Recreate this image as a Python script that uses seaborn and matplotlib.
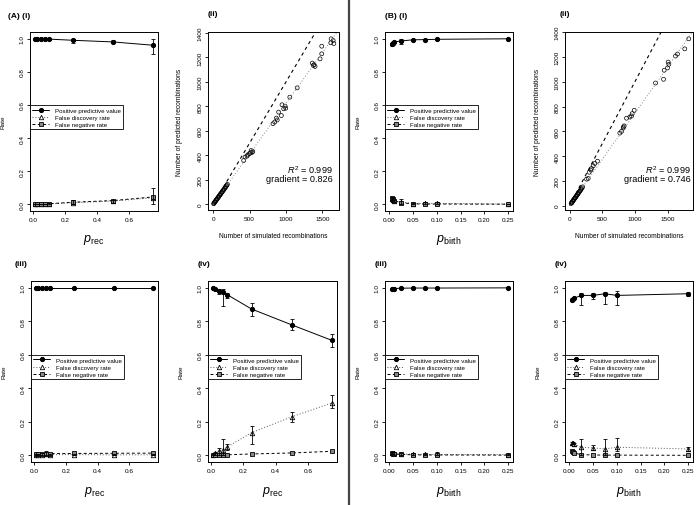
import matplotlib
matplotlib.use('Agg')
import matplotlib.pyplot as plt
import seaborn as sns
import numpy as np
from matplotlib.lines import Line2D

# ---------- data ----------
x_rec = [0.01, 0.025, 0.05, 0.075, 0.1, 0.25, 0.5, 0.75]
x_birth = [0.005, 0.0075, 0.01, 0.025, 0.05, 0.075, 0.1, 0.25]

# (A)(i)
ppv_a1 = [1.0, 1.0, 0.999, 0.998, 0.997, 0.99, 0.98, 0.96]
ppv_a1_lo = [1.0, 1.0, 0.997, 0.995, 0.993, 0.975, 0.972, 0.905]
ppv_a1_hi = [1.0, 1.0, 1.0, 1.0, 1.0, 1.0, 0.99, 0.995]
fdr_a1 = [0.0, 0.0, 0.001, 0.002, 0.003, 0.01, 0.02, 0.04]
fdr_a1_lo = [0.0, 0.0, 0.0, 0.0, 0.0, 0.0, 0.01, 0.005]
fdr_a1_hi = [0.0, 0.0, 0.003, 0.005, 0.007, 0.025, 0.028, 0.1]
fnr_a1 = [0.0, 0.001, 0.002, 0.003, 0.004, 0.013, 0.023, 0.045]

# (A)(iii)
ppv_a3 = [1.0, 1.0, 1.0, 1.0, 1.0, 1.0, 1.0, 1.0]
ppv_a3_lo = [0.998, 0.998, 0.998, 0.997, 0.998, 0.998, 0.998, 0.998]
ppv_a3_hi = [1.0, 1.0, 1.0, 1.0, 1.0, 1.0, 1.0, 1.0]
fdr_a3 = [0.002, 0.003, 0.004, 0.006, 0.004, 0.004, 0.003, 0.003]
fdr_a3_lo = [0.0, 0.0, 0.0, 0.0, 0.0, 0.0, 0.0, 0.0]
fdr_a3_hi = [0.006, 0.008, 0.012, 0.024, 0.01, 0.008, 0.006, 0.006]
fnr_a3 = [0.006, 0.007, 0.008, 0.01, 0.01, 0.011, 0.012, 0.013]

# (A)(iv)
ppv_a4 = [0.998, 0.994, 0.98, 0.974, 0.958, 0.873, 0.778, 0.685]
ppv_a4_lo = [0.995, 0.99, 0.96, 0.893, 0.937, 0.832, 0.745, 0.644]
ppv_a4_hi = [1.0, 0.998, 0.994, 0.994, 0.968, 0.909, 0.816, 0.721]
fdr_a4 = [0.004, 0.012, 0.028, 0.034, 0.05, 0.135, 0.23, 0.313]
fdr_a4_lo = [0.0, 0.004, 0.004, 0.0, 0.03, 0.069, 0.196, 0.283]
fdr_a4_hi = [0.008, 0.02, 0.044, 0.1, 0.065, 0.176, 0.257, 0.358]
fnr_a4 = [0.002, 0.002, 0.003, 0.003, 0.003, 0.008, 0.014, 0.024]

# (B)(i)
ppv_b1 = [0.965, 0.972, 0.98, 0.986, 0.993, 0.994, 0.996, 0.999]
ppv_b1_lo = [0.955, 0.962, 0.972, 0.97, 0.99, 0.99, 0.992, 0.998]
ppv_b1_hi = [0.975, 0.982, 0.988, 0.998, 0.996, 0.998, 1.0, 1.0]
fdr_b1 = [0.035, 0.028, 0.02, 0.014, 0.005, 0.006, 0.006, 0.002]
fdr_b1_lo = [0.025, 0.018, 0.012, 0.002, 0.002, 0.002, 0.0, 0.0]
fdr_b1_hi = [0.045, 0.038, 0.028, 0.03, 0.01, 0.012, 0.012, 0.004]
fnr_b1 = [0.04, 0.03, 0.022, 0.01, 0.003, 0.002, 0.002, 0.001]

# (B)(iii)
ppv_b3 = [0.99, 0.993, 0.995, 0.997, 0.998, 0.998, 0.998, 0.999]
ppv_b3_lo = [0.985, 0.988, 0.99, 0.993, 0.995, 0.995, 0.995, 0.997]
ppv_b3_hi = [0.995, 0.998, 1.0, 1.0, 1.0, 1.0, 1.0, 1.0]
fdr_b3 = [0.015, 0.013, 0.011, 0.008, 0.006, 0.005, 0.005, 0.004]
fdr_b3_lo = [0.008, 0.006, 0.004, 0.002, 0.0, 0.0, 0.0, 0.0]
fdr_b3_hi = [0.022, 0.02, 0.018, 0.016, 0.012, 0.01, 0.02, 0.008]
fnr_b3 = [0.012, 0.01, 0.008, 0.005, 0.003, 0.002, 0.002, 0.001]

# (B)(iv)
ppv_b4 = [0.929, 0.933, 0.937, 0.954, 0.954, 0.964, 0.954, 0.964]
ppv_b4_lo = [0.922, 0.926, 0.93, 0.897, 0.933, 0.903, 0.897, 0.95]
ppv_b4_hi = [0.936, 0.94, 0.944, 0.968, 0.968, 0.974, 0.98, 0.974]
fdr_b4 = [0.075, 0.072, 0.066, 0.048, 0.044, 0.038, 0.048, 0.038]
fdr_b4_lo = [0.068, 0.065, 0.058, 0.004, 0.03, 0.004, 0.024, 0.028]
fdr_b4_hi = [0.082, 0.079, 0.074, 0.1, 0.06, 0.095, 0.105, 0.05]
fnr_b4 = [0.028, 0.02, 0.014, 0.004, 0.002, 0.001, 0.001, 0.0]

# (A)(ii) simulated vs predicted recombinations
sim_a = [8, 12, 18, 22, 27, 33, 38, 42, 48, 55, 60, 66, 72, 78, 85, 92, 98, 105,
         112, 120, 128, 135, 142, 150, 158, 165, 172, 180, 188, 196,
         420, 439, 466, 475, 499, 512, 522, 545, 535,
         822, 845, 868, 880, 900, 937, 946, 969, 988, 997,
         1053, 1154,
         1362, 1376, 1385, 1399, 1468, 1491, 1491,
         1615, 1620, 1648, 1657]
pred_a = [6, 10, 15, 19, 22, 28, 31, 36, 40, 46, 50, 55, 60, 65, 71, 76, 82, 87,
          93, 100, 106, 112, 118, 124, 131, 137, 143, 150, 157, 165,
          359, 387, 395, 405, 414, 422, 441, 433, 425,
          660, 673, 705, 690, 754, 726, 814, 781, 803, 786,
          876, 952,
          1154, 1135, 1141, 1127, 1189, 1230, 1292,
          1320, 1352, 1339, 1314]
grad_a = 0.826

# (B)(ii)
sim_b = [25, 30, 35, 40, 46, 52, 58, 64, 70, 77, 84, 90, 97, 104, 111, 118, 125,
         132, 140, 148, 156, 164, 172, 180, 190, 200,
         260, 285, 300, 326, 336, 362, 387, 428,
         770, 796, 821, 826, 836, 872, 923, 949, 959, 990,
         1316, 1439, 1449, 1500, 1510, 1520, 1622, 1652, 1764, 1825]
pred_b = [18, 22, 26, 30, 34, 39, 43, 48, 52, 58, 63, 67, 72, 78, 83, 88, 93,
          99, 105, 111, 117, 123, 129, 135, 143, 152,
          214, 220, 270, 287, 300, 322, 341, 359,
          586, 600, 627, 636, 644, 706, 716, 724, 743, 770,
          990, 1020, 1093, 1112, 1159, 1141, 1208, 1224, 1266, 1347]
grad_b = 0.746

legend_labels = ['Positive predictive value', 'False discovery rate', 'False negative rate']

# ---------- style ----------
sns.set_style('ticks')
plt.rcParams['font.family'] = ['Liberation Sans', 'DejaVu Sans']
plt.rcParams['mathtext.fontset'] = 'custom'
plt.rcParams['mathtext.rm'] = 'Liberation Sans'
plt.rcParams['mathtext.it'] = 'Liberation Sans:italic'
plt.rcParams['text.color'] = 'black'
plt.rcParams['axes.labelcolor'] = 'black'

W, H = 697, 506
fig = plt.figure(figsize=(W / 100, H / 100), dpi=100)


def box(l, t, r, b):
    return fig.add_axes([l / W, 1 - b / H, (r - l) / W, (b - t) / H])


def finish_axes(ax):
    for s in ax.spines.values():
        s.set_linewidth(0.7)
        s.set_color('black')
    ax.tick_params(direction='out', length=2.5, width=0.6, labelsize=4.6,
                   pad=1.5, colors='black')
    ax.tick_params(axis='y', labelrotation=90)
    plt.setp(ax.get_yticklabels(), va='center')


def rate_panel(ax, x, ppv, ppv_lo, ppv_hi, fdr, fdr_lo, fdr_hi, fnr, xlim, xticks, xfmt, xlab):
    x = np.array(x)
    ppv, ppv_lo, ppv_hi = map(np.array, (ppv, ppv_lo, ppv_hi))
    fdr, fdr_lo, fdr_hi = map(np.array, (fdr, fdr_lo, fdr_hi))
    sns.lineplot(x=x, y=ppv, ax=ax, color='black', linestyle='-', linewidth=0.7,
                 marker='o', markersize=3, markerfacecolor='black',
                 markeredgecolor='black', label=legend_labels[0])
    sns.lineplot(x=x, y=fdr, ax=ax, color='#555555', linewidth=0.7,
                 dashes=False, marker='^', markersize=3.2, markerfacecolor='white',
                 markeredgecolor='black', markeredgewidth=0.6, label=legend_labels[1])
    ax.lines[-1].set_linestyle((0, (1, 2)))
    sns.lineplot(x=x, y=fnr, ax=ax, color='black', linewidth=0.7,
                 marker='s', markersize=2.8, markerfacecolor='#888888',
                 markeredgecolor='black', markeredgewidth=0.6, label=legend_labels[2])
    ax.lines[-1].set_linestyle((0, (3, 2.5)))
    ax.errorbar(x, ppv, yerr=[ppv - ppv_lo, ppv_hi - ppv], fmt='none', ecolor='black',
                elinewidth=0.6, capsize=1.3, capthick=0.6)
    ax.errorbar(x, fdr, yerr=[fdr - fdr_lo, fdr_hi - fdr], fmt='none', ecolor='black',
                elinewidth=0.6, capsize=1.3, capthick=0.6)
    ax.set_xlim(*xlim)
    ax.set_ylim(-0.04, 1.04)
    ax.set_xticks(xticks)
    ax.set_xticklabels([xfmt.format(v) for v in xticks])
    ax.set_yticks([0, 0.2, 0.4, 0.6, 0.8, 1.0])
    ax.set_yticklabels(['0.0', '0.2', '0.4', '0.6', '0.8', '1.0'])
    ax.set_ylabel('Rate', fontsize=4.6)
    ax.yaxis.set_label_coords(-0.19, 0.5)
    ax.set_xlabel(xlab, fontsize=9)
    ax.xaxis.set_label_coords(0.5, -0.12)
    leg = ax.legend(loc='upper left', bbox_to_anchor=(0.0, 0.59), borderaxespad=0,
                    fontsize=4.4, frameon=True, fancybox=False, edgecolor='black',
                    framealpha=1, handlelength=2.8, handletextpad=1.0,
                    borderpad=0.35, labelspacing=0.3)
    leg.get_frame().set_linewidth(0.6)
    finish_axes(ax)


def scatter_panel(ax, sim, pred, grad, xlim, ylim, tx):
    sns.scatterplot(x=sim, y=pred, ax=ax, marker='o', s=8, facecolor='none',
                    edgecolor='black', linewidth=0.5)
    xs = np.array([0, 2000])
    ax.plot(xs, xs, color='black', linewidth=0.8, linestyle=(0, (3, 3)))
    ax.plot(xs, grad * xs, color='#888888', linewidth=0.7, linestyle=(0, (1, 2)))
    ax.set_xlim(*xlim)
    ax.set_ylim(*ylim)
    ax.set_xticks([0, 500, 1000, 1500])
    ax.set_yticks([0, 200, 400, 600, 800, 1000, 1200, 1400])
    ax.set_xlabel('Number of simulated recombinations', fontsize=4.8)
    ax.xaxis.set_label_coords(0.5, -0.125)
    ax.set_ylabel('Number of predicted recombinations', fontsize=4.8)
    ax.yaxis.set_label_coords(-0.19, 0.5)
    ax.text(tx, 0.232, r'$R^2$ = 0.999', transform=ax.transAxes, ha='right',
            va='center', fontsize=6.6)
    ax.text(tx, 0.178, 'gradient = %.3f' % grad, transform=ax.transAxes, ha='right',
            va='center', fontsize=6.6)
    finish_axes(ax)


lab_rec = r'$p_{\rm rec}$'
lab_birth = r'$p_{\rm birth}$'
xl_a = (-0.0196, 0.7796)
xl_b = (-0.009, 0.26)
xt_a = [0.0, 0.2, 0.4, 0.6]
xt_b = [0.0, 0.05, 0.10, 0.15, 0.20, 0.25]

ax = box(30, 33, 158, 212)
rate_panel(ax, x_rec, ppv_a1, ppv_a1_lo, ppv_a1_hi, fdr_a1, fdr_a1_lo, fdr_a1_hi,
           fnr_a1, xl_a, xt_a, '{:.1f}', lab_rec)
ax = box(208, 33, 339, 211)
scatter_panel(ax, sim_a, pred_a, grad_a, (-70, 1728), (-45, 1408), 0.955)
ax = box(385, 33, 513, 212)
rate_panel(ax, x_birth, ppv_b1, ppv_b1_lo, ppv_b1_hi, fdr_b1, fdr_b1_lo, fdr_b1_hi,
           fnr_b1, xl_b, xt_b, '{:.2f}', lab_birth)
ax = box(565, 33, 693, 211)
scatter_panel(ax, sim_b, pred_b, grad_b, (-70, 1890), (-35, 1402), 0.98)

ax = box(31, 282, 158, 463)
rate_panel(ax, x_rec, ppv_a3, ppv_a3_lo, ppv_a3_hi, fdr_a3, fdr_a3_lo, fdr_a3_hi,
           fnr_a3, xl_a, xt_a, '{:.1f}', lab_rec)
ax = box(208, 282, 337, 463)
rate_panel(ax, x_rec, ppv_a4, ppv_a4_lo, ppv_a4_hi, fdr_a4, fdr_a4_lo, fdr_a4_hi,
           fnr_a4, xl_a, xt_a, '{:.1f}', lab_rec)
ax = box(385, 282, 513, 463)
rate_panel(ax, x_birth, ppv_b3, ppv_b3_lo, ppv_b3_hi, fdr_b3, fdr_b3_lo, fdr_b3_hi,
           fnr_b3, xl_b, xt_b, '{:.2f}', lab_birth)
ax = box(565, 282, 693, 463)
rate_panel(ax, x_birth, ppv_b4, ppv_b4_lo, ppv_b4_hi, fdr_b4, fdr_b4_lo, fdr_b4_hi,
           fnr_b4, xl_b, xt_b, '{:.2f}', lab_birth)

# panel tags
tags = [('(A) (i)', 8, 16), ('(ii)', 208, 15), ('(B) (i)', 385, 16), ('(ii)', 560, 15),
        ('(iii)', 15, 265), ('(iv)', 198, 265), ('(iii)', 375, 265), ('(iv)', 555, 265)]
for t, px, py in tags:
    fig.text(px / W, 1 - py / H, t, fontsize=6, fontweight='bold', va='center', ha='left')

# separator between A and B
fig.add_artist(Line2D([349 / W, 349 / W], [0, 1], transform=fig.transFigure,
                      color='#444444', linewidth=1.6))

fig.savefig('out.png', dpi=100)
